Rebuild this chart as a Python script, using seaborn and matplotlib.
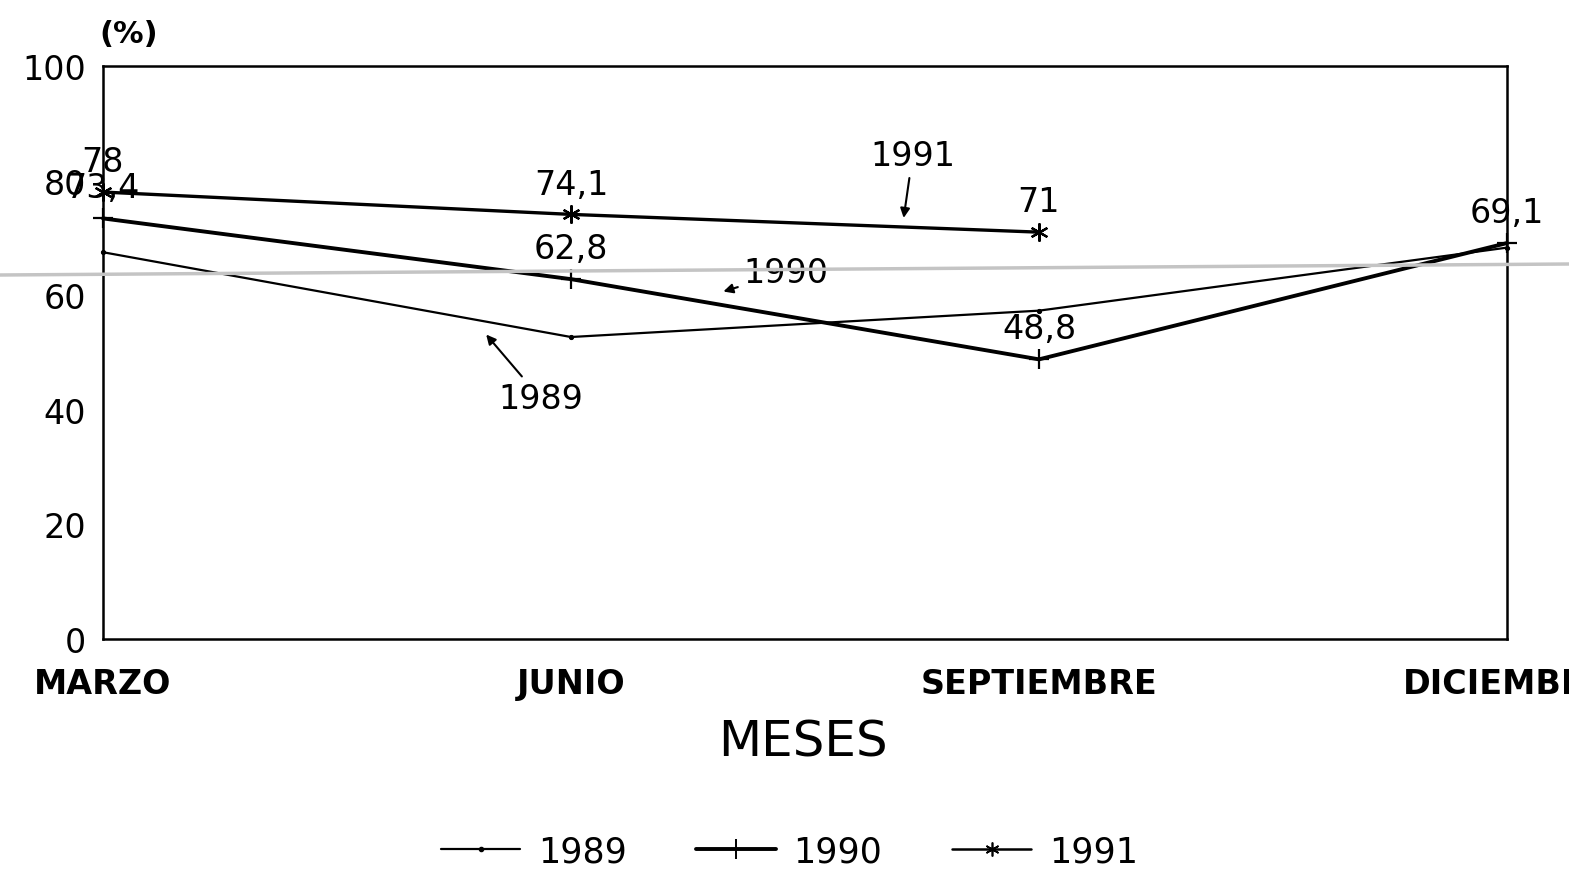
import matplotlib
matplotlib.use("Agg")
import matplotlib.pyplot as plt
from matplotlib.lines import Line2D
import seaborn as sns
import pandas as pd

# data
months = ["MARZO", "JUNIO", "SEPTIEMBRE", "DICIEMBRE"]
y1989 = [67.5, 52.7, 57.3, 68.3]
y1990 = [73.4, 62.8, 48.8, 69.1]
y1991 = [78.0, 74.1, 71.0]
lab1990 = ["73,4", "62,8", "48,8", "69,1"]
lab1991 = ["78", "74,1", "71"]
yticks = [0, 20, 40, 60, 80, 100]

sns.set_theme(style="white")
plt.rcParams["font.family"] = ["DejaVu Sans"]
plt.rcParams["text.color"] = "black"

fig = plt.figure(figsize=(15.69, 8.70), dpi=100)
ax = fig.add_axes([0.0656, 0.2644, 0.8949, 0.6586])

df = pd.concat([
    pd.DataFrame({"mes": months, "pct": y1989, "serie": "1989"}),
    pd.DataFrame({"mes": months, "pct": y1990, "serie": "1990"}),
    pd.DataFrame({"mes": months[:3], "pct": y1991, "serie": "1991"}),
])
df["x"] = df["mes"].map({m: i for i, m in enumerate(months)})

styles = {
    "1989": dict(lw=1.6, marker="o", ms=3),
    "1990": dict(lw=2.8, marker="+", ms=15, mew=1.6),
    "1991": dict(lw=2.4, marker=(6, 2, 0), ms=13, mew=1.6),
}
for s, kw in styles.items():
    sub = df[df["serie"] == s]
    sns.lineplot(data=sub, x="x", y="pct", color="black", ax=ax,
                 markeredgecolor="black", markerfacecolor="black", clip_on=False, **kw)

ax.set_xlim(0, 3)
ax.set_ylim(0, 100)
ax.set_yticks(yticks)
ax.set_yticklabels([str(v) for v in yticks], fontsize=24)
ax.set_xticks(range(len(months)))
ax.set_xticklabels(months, fontsize=24, fontweight="bold")
ax.tick_params(direction="in", length=14, width=1.5, colors="black")
ax.tick_params(axis="y", pad=12)
ax.tick_params(axis="x", pad=20)
for sp in ax.spines.values():
    sp.set_color("black")
    sp.set_linewidth(1.8)
ax.set_xlabel("")
ax.set_ylabel("")

# value labels
lab_kw = dict(ha="center", va="bottom", fontsize=24, color="black", clip_on=False)
for i, (v, t) in enumerate(zip(y1990, lab1990)):
    ax.text(i, v + 2.5, t, **lab_kw)
for i, (v, t) in enumerate(zip(y1991, lab1991)):
    ax.text(i, v + 2.4, t, **lab_kw)

# series call-outs
arr = dict(arrowstyle="-|>", color="black", lw=1.5, mutation_scale=14)
ax.annotate("1991", xy=(1.71, 73.0), xytext=(1.73, 81.5), fontsize=24,
            ha="center", va="bottom", arrowprops=arr)
ax.annotate("1990", xy=(1.32, 60.5), xytext=(1.46, 64.0), fontsize=24,
            ha="center", va="center", arrowprops=arr)
ax.annotate("1989", xy=(0.815, 53.5), xytext=(0.935, 42.0), fontsize=24,
            ha="center", va="center", arrowprops=arr)

fig.text(0.082, 0.96, "(%)", fontsize=22, fontweight="bold", ha="center", va="center")
fig.text(0.512, 0.147, "MESES", fontsize=36, ha="center", va="center")

# faint scan streak across the page
fig.add_artist(Line2D([0, 1], [1 - 276 / 870, 1 - 265 / 870], transform=fig.transFigure,
                      color="#c4c4c4", lw=2.5))

leg_styles = {
    "1989": dict(lw=1.6, marker="o", ms=3),
    "1990": dict(lw=2.8, marker="+", ms=14, mew=1.4),
    "1991": dict(lw=1.8, marker=(6, 2, 0), ms=10, mew=1.2),
}
handles = [Line2D([], [], color="black", **leg_styles[s]) for s in leg_styles]
fig.legend(handles, list(leg_styles.keys()), loc="center", bbox_to_anchor=(0.503, 0.02),
           ncol=3, frameon=False, fontsize=25, handlelength=2.3, columnspacing=2.0,
           handletextpad=0.5, labelcolor="black")

fig.savefig("out.png", dpi=100)
